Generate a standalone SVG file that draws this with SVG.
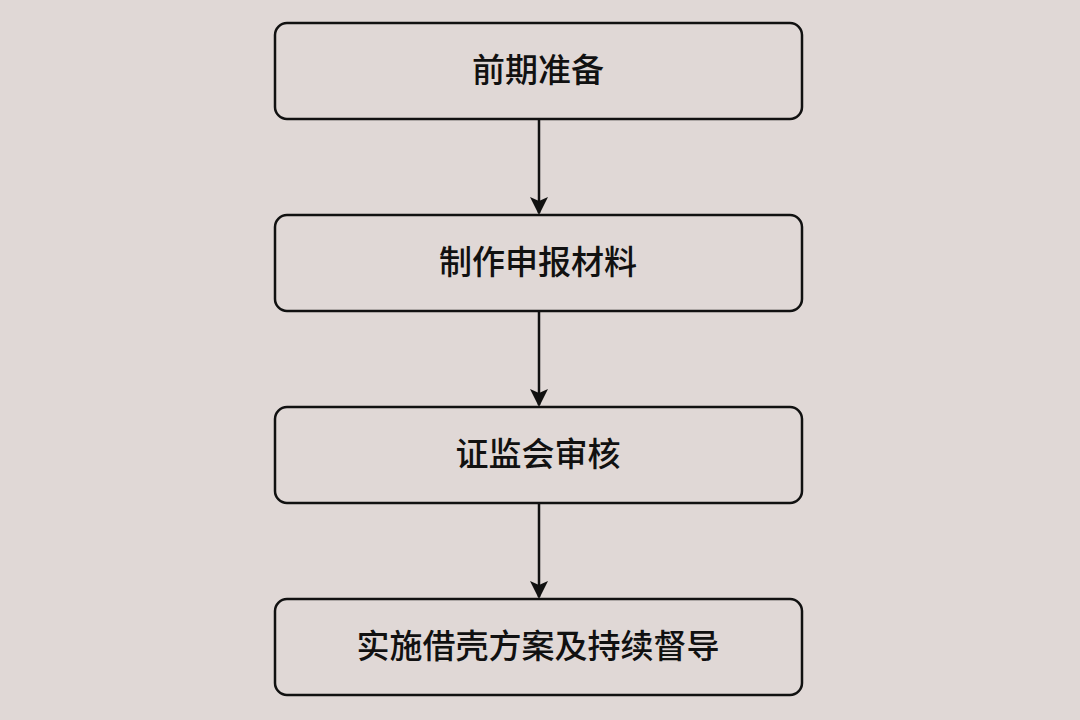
<svg xmlns="http://www.w3.org/2000/svg" width="1080" height="720" viewBox="0 0 1080 720">
<style>
.box{fill:#e0d8d6;stroke:#111;stroke-width:2.5}
.t{font-family:"Noto Sans CJK SC",sans-serif;font-size:33px;font-weight:500;fill:#111;text-anchor:middle;dominant-baseline:central}
.c{stroke:#111;stroke-width:2.5;fill:none}
</style>
<defs><marker id="a" markerWidth="18" markerHeight="20" refX="16" refY="9" orient="auto" markerUnits="userSpaceOnUse"><path d="M0,0 L18,9 L0,18 L4,9 Z" fill="#111"/></marker></defs>
<rect width="1080" height="720" fill="#e0d8d6"/>
<g id="connectors">
<line class="c" x1="539" y1="119" x2="539" y2="213" marker-end="url(#a)"/>
<line class="c" x1="539" y1="311" x2="539" y2="405" marker-end="url(#a)"/>
<line class="c" x1="539" y1="503" x2="539" y2="597" marker-end="url(#a)"/>
</g>
<g id="n1"><rect class="box" x="275" y="23" width="527" height="96" rx="12"/><text class="t" x="538" y="68">前期准备</text></g>
<g id="n2"><rect class="box" x="275" y="215" width="527" height="96" rx="12"/><text class="t" x="538" y="260">制作申报材料</text></g>
<g id="n3"><rect class="box" x="275" y="407" width="527" height="96" rx="12"/><text class="t" x="538" y="452">证监会审核</text></g>
<g id="n4"><rect class="box" x="275" y="599" width="527" height="96" rx="12"/><text class="t" x="538" y="644">实施借壳方案及持续督导</text></g>
</svg>
